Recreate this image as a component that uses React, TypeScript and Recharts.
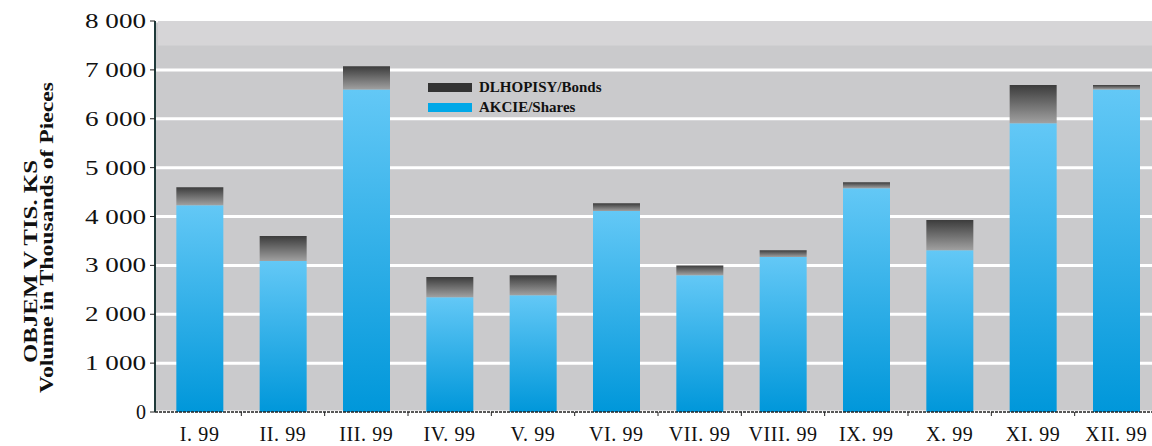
import { Bar, BarChart, CartesianGrid, Legend, ReferenceArea, XAxis, YAxis } from "recharts";

const MONTHS = ["I. 99", "II. 99", "III. 99", "IV. 99", "V. 99", "VI. 99", "VII. 99", "VIII. 99", "IX. 99", "X. 99", "XI. 99", "XII. 99"];
const SHARES = [4230, 3090, 6600, 2350, 2390, 4110, 2800, 3170, 4580, 3310, 5910, 6600];
const BONDS = [370, 510, 475, 410, 410, 160, 200, 140, 120, 620, 780, 90];
const Y_TICKS = [0, 1000, 2000, 3000, 4000, 5000, 6000, 7000, 8000];

const rows = MONTHS.map((m, i) => ({ month: m, shares: SHARES[i], bonds: BONDS[i] }));

const FONT = '"Liberation Serif", "Times New Roman", serif';
const W = 1152;
const H = 446;
const LEFT = 155;
const RIGHT = -6;
const PAD_L = 3;
const BAND = (W - LEFT - RIGHT - PAD_L) / MONTHS.length;

const fmt = (v: number) => (v >= 1000 ? `${Math.floor(v / 1000)} ${String(v % 1000).padStart(3, "0")}` : String(v));

// tick y arrives 8px under the axis line (tickSize + tickMargin)
function MonthTick(props: any) {
  const { x, y, payload } = props;
  return (
    <g>
      <line x1={x + BAND / 2} x2={x + BAND / 2} y1={y - 8} y2={y - 4} stroke="#222" strokeWidth={1} />
      <text x={x} y={y + 21} textAnchor="middle" fontFamily={FONT} fontSize={20} letterSpacing={0.6} fill="#111">
        {payload.value}
      </text>
    </g>
  );
}

function ValueTick(props: any) {
  const { x, y, payload } = props;
  const label = fmt(payload.value);
  const wide = payload.value >= 1000;
  return (
    <text
      x={x - 2}
      y={y + 7}
      textAnchor="end"
      fontFamily={FONT}
      fontSize={20}
      fill="#111"
      {...(wide ? { textLength: 61, lengthAdjust: "spacingAndGlyphs" } : {})}
    >
      {label}
    </text>
  );
}

function AxisTitle() {
  return (
    <g fontFamily={FONT} fontSize={18} fontWeight="bold" fill="#111">
      <text transform="translate(37, 363) rotate(-90)" textLength={203} lengthAdjust="spacingAndGlyphs">
        OBJEM V TIS. KS
      </text>
      <text transform="translate(53, 393) rotate(-90)" textLength={311} lengthAdjust="spacingAndGlyphs">
        Volume in Thousands of Pieces
      </text>
    </g>
  );
}

function LegendBox() {
  const items = [
    { label: "DLHOPISY/Bonds", color: "#333333" },
    { label: "AKCIE/Shares", color: "#00a8e8" },
  ];
  return (
    <div style={{ fontFamily: FONT, fontWeight: "bold", fontSize: 15, color: "#111", lineHeight: "19px" }}>
      {items.map((it) => (
        <div key={it.label} style={{ display: "flex", alignItems: "center", height: 20 }}>
          <span style={{ display: "inline-block", width: 44, height: 9, background: it.color, marginRight: 7 }} />
          {it.label}
        </div>
      ))}
    </div>
  );
}

export default function App() {
  return (
    <div style={{ position: "absolute", left: 0, top: 0, width: W, height: H, background: "#fff", overflow: "hidden" }}>
      <BarChart width={W} height={H} data={rows} margin={{ top: 21, right: RIGHT, left: 0, bottom: 0 }} barCategoryGap="22%">
        <defs>
          <linearGradient id="sharesGrad" x1="0" y1="0" x2="0" y2="1">
            <stop offset="0%" stopColor="#63c8f6" />
            <stop offset="100%" stopColor="#0097da" />
          </linearGradient>
          <linearGradient id="bondsGrad" x1="0" y1="0" x2="0" y2="1">
            <stop offset="0%" stopColor="#3c3c3c" />
            <stop offset="100%" stopColor="#a0a0a0" />
          </linearGradient>
        </defs>
        <CartesianGrid vertical={false} stroke="#ffffff" strokeWidth={3} fill="#cacacc" />
        <ReferenceArea y1={7500} y2={8000} fill="#d6d5d7" fillOpacity={1} stroke="none" ifOverflow="hidden" />
        <XAxis
          dataKey="month"
          height={34}
          padding={{ left: PAD_L, right: 0 }}
          tickLine={false}
          axisLine={{ stroke: "#222", strokeWidth: 1.5, strokeDasharray: "3 1" }}
          tick={<MonthTick />}
          interval={0}
        />
        <YAxis
          width={LEFT}
          domain={[0, 8000]}
          ticks={Y_TICKS}
          tick={<ValueTick />}
          tickLine={{ stroke: "#222" }}
          tickSize={5}
          axisLine={{ stroke: "#1f3a3a", strokeWidth: 2 }}
          label={<AxisTitle />}
        />
        <Legend
          verticalAlign="middle"
          align="center"
          layout="horizontal"
          content={<LegendBox />}
          wrapperStyle={{ position: "absolute", left: 428, top: 77, width: 220 }}
        />
        <Bar dataKey="shares" stackId="v" fill="url(#sharesGrad)" isAnimationActive={false} />
        <Bar dataKey="bonds" stackId="v" fill="url(#bondsGrad)" isAnimationActive={false} />
      </BarChart>
    </div>
  );
}
